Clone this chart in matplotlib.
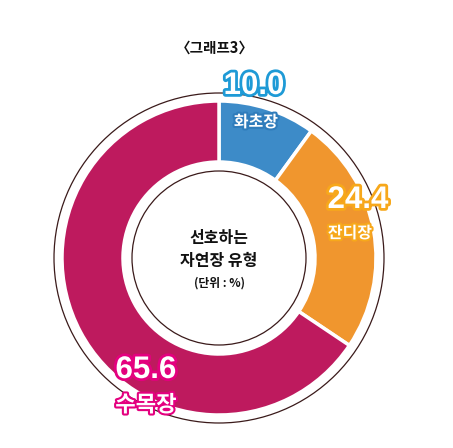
import matplotlib.pyplot as plt
import matplotlib.patheffects as pe
from matplotlib.patches import Circle

# --- Data ---
labels = ['화초장', '잔디장', '수목장']
values = [10.0, 24.4, 65.6]
colors = ['#3D8BC8', '#F0962E', '#BE1A5E']
stroke_colors = ['#1E9AD6', '#F7A81B', '#E4007F']

W, H = 453, 448
plt.rcParams['font.family'] = ['Noto Sans CJK KR', 'DejaVu Sans']

fig = plt.figure(figsize=(W / 100, H / 100), dpi=100)
ax = fig.add_axes([0, 0, 1, 1])

cx, cy = 219, H - 258

# --- Donut ---
ax.pie(values, colors=colors, startangle=90, counterclock=False,
       radius=157, center=(cx, cy), frame=True,
       wedgeprops=dict(width=61, edgecolor='white', linewidth=2.5))
ax.set_xlim(0, W)
ax.set_ylim(0, H)
ax.set_aspect('equal')
ax.axis('off')

ax.add_patch(Circle((cx, cy), 165, fill=False, edgecolor='#3A1A1A', linewidth=0.9))
ax.add_patch(Circle((cx, cy), 87, fill=False, edgecolor='#3A1A1A', linewidth=0.9))

# --- Title and centre text ---
ax.text(cx - 4, H - 48, '〈그래프3〉', ha='center', va='center', fontsize=10.5,
        fontweight='bold', color='#111111')
ax.text(cx, H - 238, '선호하는', ha='center', va='center', fontsize=11.5,
        fontweight='bold', color='#111111')
ax.text(cx, H - 261, '자연장 유형', ha='center', va='center', fontsize=11.5,
        fontweight='bold', color='#111111')
ax.text(cx, H - 283, '(단위 : %)', ha='center', va='center', fontsize=8.5,
        fontweight='bold', color='#111111')

# --- Value labels ---
num_pos = [(254, 86), (358, 200), (146, 370)]
lab_pos = [(256, 122), (350, 233), (146, 405)]
lab_sizes = [11.5, 11.5, 16]
num_font = ['Liberation Sans', 'DejaVu Sans']

for i in range(len(values)):
    nx, ny = num_pos[i]
    ax.text(nx, H - ny, f'{values[i]:.1f}', ha='center', va='center',
            fontsize=22.5, fontweight='bold', color='white', family=num_font,
            path_effects=[pe.withStroke(linewidth=4, foreground=stroke_colors[i])])
    lx, ly = lab_pos[i]
    lab_stroke = stroke_colors[i] if i != 0 else '#2F7CBB'
    ax.text(lx, H - ly, labels[i], ha='center', va='center',
            fontsize=lab_sizes[i], fontweight='bold', color='white',
            path_effects=[pe.withStroke(linewidth=3, foreground=lab_stroke)])

fig.savefig('out.png', dpi=100)
